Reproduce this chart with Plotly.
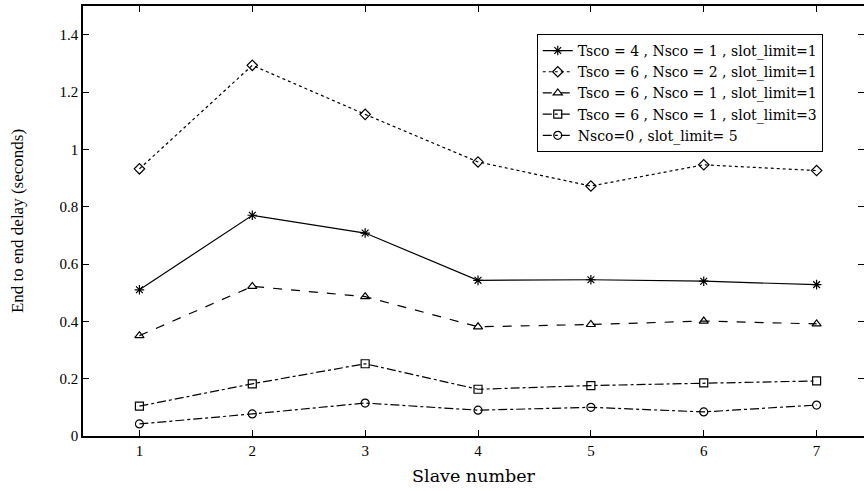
import plotly.graph_objects as go

slaves = [1, 2, 3, 4, 5, 6, 7]
s1 = [0.51, 0.77, 0.708, 0.543, 0.545, 0.540, 0.528]
s2 = [0.932, 1.293, 1.122, 0.956, 0.872, 0.946, 0.926]
s3 = [0.35, 0.522, 0.486, 0.381, 0.389, 0.401, 0.391]
s4 = [0.104, 0.182, 0.252, 0.163, 0.176, 0.185, 0.192]
s5 = [0.042, 0.077, 0.115, 0.09, 0.1, 0.084, 0.108]

names = [
    "Tsco = 4 , Nsco = 1 , slot_limit=1",
    "Tsco = 6 , Nsco = 2 , slot_limit=1",
    "Tsco = 6 , Nsco = 1 , slot_limit=1",
    "Tsco = 6 , Nsco = 1 , slot_limit=3",
    "Nsco=0 , slot_limit= 5",
]
series = [s1, s2, s3, s4, s5]
symbols = ["asterisk-open", "diamond-open", "triangle-up-open", "square-open", "circle-open"]
dashes = ["solid", "dot", "dash", "dashdot", "dashdot"]

fig = go.Figure()
for name, ys, sym, dash in zip(names, series, symbols, dashes):
    fig.add_trace(go.Scatter(
        x=slaves, y=ys, name=name, mode="lines+markers",
        line=dict(color="black", width=1.2, dash=dash),
        marker=dict(symbol=sym, size=8, color="black", line=dict(color="black", width=1.2)),
    ))

serif = "Liberation Serif"
wide = "DejaVu Serif"
fig.update_layout(
    width=864, height=491,
    margin=dict(l=83, r=0, t=6, b=55, autoexpand=False),
    paper_bgcolor="white", plot_bgcolor="white",
    font=dict(family=serif, color="black", size=13),
    showlegend=True,
    legend=dict(
        x=0.581, y=0.935, xanchor="left", yanchor="top",
        bordercolor="black", borderwidth=1, bgcolor="white",
        font=dict(family=wide, size=14), tracegroupgap=0,
    ),
)
fig.update_xaxes(
    range=[0.5, 7.42], tickvals=slaves, ticktext=[str(v) for v in slaves],
    showline=True, linecolor="black", linewidth=1.5, mirror="ticks",
    ticks="inside", ticklen=6, tickcolor="black", showgrid=False, zeroline=False,
    title=dict(text="Slave number", font=dict(family=wide, size=17.5), standoff=12),
    tickfont=dict(size=15),
)
fig.update_yaxes(
    range=[0, 1.5], tickvals=[0, 0.2, 0.4, 0.6, 0.8, 1, 1.2, 1.4],
    ticktext=["0", "0.2", "0.4", "0.6", "0.8", "1", "1.2", "1.4"],
    showline=True, linecolor="black", linewidth=1.5, mirror="ticks",
    ticks="inside", ticklen=6, tickcolor="black", showgrid=False, zeroline=False,
    title=dict(text="End to end delay (seconds)", font=dict(family=serif, size=17), standoff=32),
    tickfont=dict(size=15),
)

fig.write_html(
    "out.html",
    config={"displayModeBar": False},
    post_script="document.body.style.margin='0';document.body.style.overflow='hidden';",
)
